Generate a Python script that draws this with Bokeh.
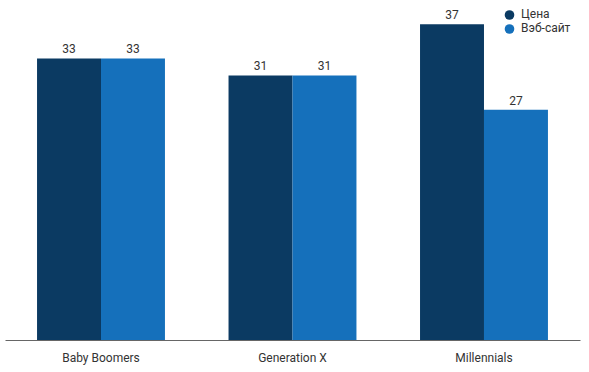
from bokeh.plotting import figure
from bokeh.models import ColumnDataSource, Range1d, FixedTicker, Legend, LegendItem
from bokeh.transform import dodge
from bokeh.core.properties import value
from bokeh.embed import file_html
from bokeh.resources import INLINE

categories = ["Baby Boomers", "Generation X", "Millennials"]
price = [33, 31, 37]
website = [33, 31, 27]
series_names = ["Цена", "Вэб-сайт"]
colors = ["#0b3a62", "#1570bb"]

FONT = "Roboto"
xpos = list(range(len(categories)))
src = ColumnDataSource(dict(x=xpos, price=price, website=website,
                            price_lbl=[str(v) for v in price],
                            web_lbl=[str(v) for v in website]))

p = figure(frame_width=575, frame_height=340, output_backend="svg",
           toolbar_location=None, x_range=Range1d(-0.4987, 2.504),
           y_range=Range1d(0, 39.77), min_border_top=0, min_border_left=5,
           min_border_right=1, min_border_bottom=0)
p.outline_line_color = None
p.grid.visible = False
p.yaxis.visible = False

bw = 0.334
off = bw / 2
p.vbar(x=dodge("x", -off), top="price", width=bw, source=src,
       fill_color=colors[0], line_color=None)
p.vbar(x=dodge("x", off), top="website", width=bw, source=src,
       fill_color=colors[1], line_color=None)

for fld, lbl, o in (("price", "price_lbl", -off), ("website", "web_lbl", off)):
    p.text(x=dodge("x", o), y=fld, text=lbl, source=src, text_align="center",
           text_baseline="bottom", y_offset=-5, text_font=value(FONT),
           text_font_size="12px", text_color="#333333")

ax = p.xaxis[0]
ax.ticker = FixedTicker(ticks=xpos)
ax.major_label_overrides = {i: c for i, c in enumerate(categories)}
ax.major_tick_line_color = None
ax.minor_tick_line_color = None
ax.axis_line_color = "#666666"
ax.major_label_text_font = FONT
ax.major_label_text_font_size = "12px"
ax.major_label_text_color = "#333333"
ax.major_label_standoff = 4

# legend proxies (hidden renderers, only their legend glyphs are shown)
r1 = p.scatter(x="x", y="price", source=src, marker="circle", size=10,
               fill_color=colors[0], line_color=None, visible=False)
r2 = p.scatter(x="x", y="website", source=src, marker="circle", size=10,
               fill_color=colors[1], line_color=None, visible=False)

for name, r, loc in ((series_names[0], r1, (492, 313.5)),
                     (series_names[1], r2, (492, 299.5))):
    leg = Legend(items=[LegendItem(label=name, renderers=[r], index=0)],
                 location=loc, orientation="vertical",
                 border_line_color=None, background_fill_alpha=0,
                 inactive_fill_alpha=0,
                 padding=0, margin=0, spacing=0, label_height=25,
                 glyph_height=25, glyph_width=24, label_standoff=0,
                 label_text_font=FONT, label_text_font_size="12px",
                 label_text_color="#333333")
    p.add_layout(leg, "center")

open("out.html", "w").write(file_html(p, INLINE))
